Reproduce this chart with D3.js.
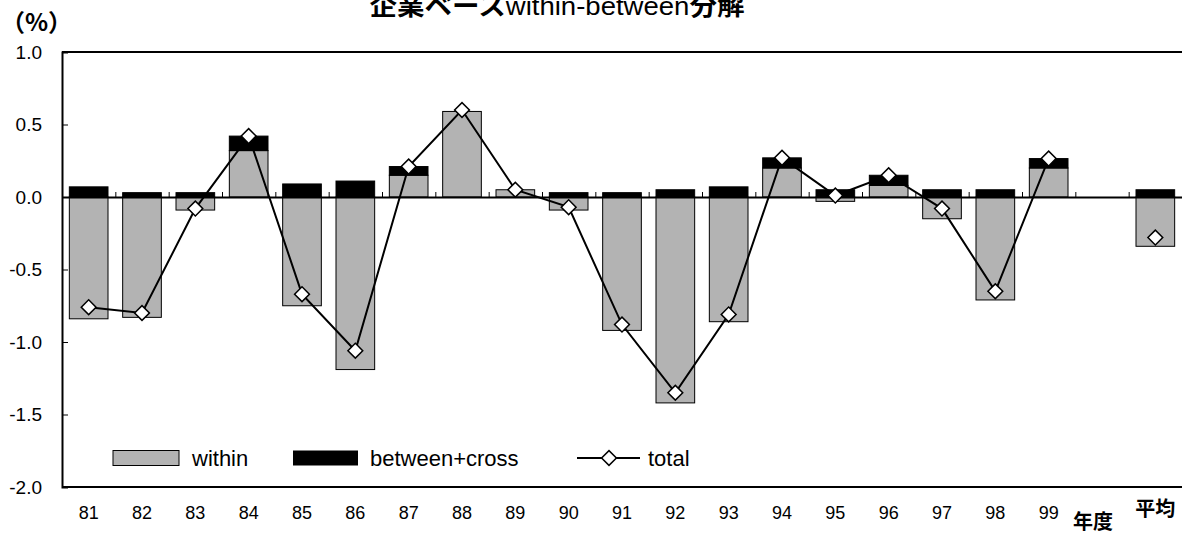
<!DOCTYPE html>
<html>
<head>
<meta charset="utf-8">
<script src="https://cdn.jsdelivr.net/npm/d3@7"></script>
<style>
    body { margin: 0; background: #fff; }
    text { font-family: "Liberation Sans", Arial, sans-serif; }
    .cjk { font-family: "Noto Sans CJK JP", sans-serif; font-weight: bold; }
</style>
</head>
<body>
<div id="chart"></div>
<script>
// chart values
const years = ['81', '82', '83', '84', '85', '86', '87', '88', '89', '90',
    '91', '92', '93', '94', '95', '96', '97', '98', '99'];
const slots = [...years, 'gap', '平均'];
const within = [-0.84, -0.83, -0.09, 0.32, -0.75, -1.19, 0.15, 0.59, 0.05, -0.09,
    -0.92, -1.42, -0.86, 0.20, -0.03, 0.08, -0.15, -0.71, 0.20, null, -0.34];
const between = [0.07, 0.03, 0.03, 0.10, 0.09, 0.11, 0.06, 0.00, 0.00, 0.03,
    0.03, 0.05, 0.07, 0.07, 0.05, 0.07, 0.05, 0.05, 0.065, null, 0.05];
const total = [-0.76, -0.80, -0.08, 0.42, -0.67, -1.06, 0.21, 0.60, 0.05, -0.07,
    -0.88, -1.35, -0.81, 0.27, 0.01, 0.15, -0.08, -0.65, 0.265, null, -0.28];
const yTicks = [-2.0, -1.5, -1.0, -0.5, 0.0, 0.5, 1.0];

const margin = {top: 52, right: 0, bottom: 47, left: 62};
const width = 1182 - margin.left - margin.right;
const height = 534 - margin.top - margin.bottom;

const svg = d3.select('#chart')
    .append('svg')
        .attr('width', width + margin.left + margin.right)
        .attr('height', height + margin.top + margin.bottom)
    .append('g')
        .attr('transform', `translate(${margin.left},${margin.top})`);

// scales
const x = d3.scaleBand().domain(slots).range([0, width]).paddingInner(0.275).paddingOuter(0.1375);
const xEdge = d3.scaleLinear().domain([0, slots.length]).range([0, width]);
const y = d3.scaleLinear().domain([-2, 1]).range([height, 0]);

// stacked table (within below/above zero, between on top)
const table = slots.map((s, i) => ({slot: s, within: within[i] || 0, between: between[i] || 0}))
    .filter((d, i) => within[i] !== null);
const series = d3.stack()
    .keys(['within', 'between'])
    .offset(d3.stackOffsetDiverging)(table);
const fills = {within: '#b3b3b3', between: '#000'};

// frame: top and bottom border
svg.append('line')
    .attr('x1', 0).attr('x2', width)
    .attr('y1', 0).attr('y2', 0)
    .attr('stroke', '#000').attr('stroke-width', 2);
svg.append('line')
    .attr('x1', 0).attr('x2', width)
    .attr('y1', height).attr('y2', height)
    .attr('stroke', '#000').attr('stroke-width', 2);

// y axis with inward ticks
const yAxis = svg.append('g')
    .call(d3.axisLeft(y).tickValues(yTicks).tickSize(-6).tickPadding(20).tickFormat(d => d.toFixed(1)));
yAxis.select('.domain').attr('stroke-width', 2);
yAxis.selectAll('text').attr('font-size', 19).attr('font-family', '"Liberation Sans", Arial, sans-serif').attr('fill', '#000');

// bars
svg.append('g')
    .selectAll('g')
    .data(series)
    .join('g')
        .attr('fill', d => fills[d.key])
    .selectAll('rect')
    .data(d => d)
    .join('rect')
        .attr('x', d => x(d.data.slot))
        .attr('width', x.bandwidth())
        .attr('y', d => y(d[1]))
        .attr('height', d => y(d[0]) - y(d[1]))
        .attr('stroke', '#000')
        .attr('stroke-width', 1);

// zero line with category boundary ticks
const zeroAxis = svg.append('g')
    .attr('transform', `translate(0,${y(0)})`)
    .call(d3.axisBottom(xEdge).tickValues(d3.range(1, slots.length)).tickSize(-5).tickSizeOuter(0).tickFormat(''));
zeroAxis.select('.domain').attr('stroke-width', 2);

// category labels
const xAxis = svg.append('g')
    .attr('transform', `translate(0,${height})`)
    .call(d3.axisBottom(x).tickSize(0).tickPadding(19).tickFormat(d => d === 'gap' ? '年度' : d));
xAxis.select('.domain').remove();
xAxis.selectAll('text')
    .attr('font-size', 18)
    .attr('font-family', '"Liberation Sans", Arial, sans-serif')
    .attr('fill', '#000');
xAxis.selectAll('text')
    .filter(d => d === 'gap' || d === '平均')
    .attr('class', 'cjk')
    .attr('font-family', null)
    .attr('font-size', 20);
xAxis.selectAll('text')
    .filter(d => d === 'gap')
    .attr('x', -9)
    .attr('y', 28);
xAxis.selectAll('text')
    .filter(d => d === '平均')
    .attr('y', 15);

// total line over the yearly points
const pts = slots.map((s, i) => ({slot: s, v: total[i]})).filter(d => d.v !== null);
const line = d3.line()
    .x(d => x(d.slot) + x.bandwidth() / 2)
    .y(d => y(d.v));
svg.append('path')
    .datum(pts.filter(d => years.includes(d.slot)))
    .attr('fill', 'none')
    .attr('stroke', '#000')
    .attr('stroke-width', 2)
    .attr('d', line);

const diamond = d3.symbol().type(d3.symbolSquare).size(110);
svg.append('g')
    .selectAll('path')
    .data(pts)
    .join('path')
        .attr('d', diamond)
        .attr('transform', d => `translate(${x(d.slot) + x.bandwidth() / 2},${y(d.v)}) rotate(45)`)
        .attr('fill', '#fff')
        .attr('stroke', '#000')
        .attr('stroke-width', 1.5);

// legend
const legend = svg.append('g').attr('transform', `translate(0,${y(-1.8)})`);
legend.append('rect')
    .attr('x', 51).attr('y', -7.5).attr('width', 66).attr('height', 15)
    .attr('fill', fills.within).attr('stroke', '#000').attr('stroke-width', 1);
legend.append('text')
    .attr('x', 130).attr('dy', '0.35em').attr('font-size', 22).text('within');
legend.append('rect')
    .attr('x', 231).attr('y', -7.5).attr('width', 65).attr('height', 15)
    .attr('fill', fills.between);
legend.append('text')
    .attr('x', 308).attr('dy', '0.35em').attr('font-size', 22).text('between+cross');
legend.append('line')
    .attr('x1', 515).attr('x2', 578).attr('y1', 0).attr('y2', 0)
    .attr('stroke', '#000').attr('stroke-width', 2);
legend.append('path')
    .attr('d', diamond)
    .attr('transform', 'translate(547,0) rotate(45)')
    .attr('fill', '#fff').attr('stroke', '#000').attr('stroke-width', 1.5);
legend.append('text')
    .attr('x', 586).attr('dy', '0.35em').attr('font-size', 22).text('total');

// title and unit label
const root = d3.select('#chart svg');
const title = root.append('text')
    .attr('x', 557)
    .attr('y', 15)
    .attr('text-anchor', 'middle')
    .attr('font-size', 25)
    .attr('textLength', 375)
    .attr('lengthAdjust', 'spacingAndGlyphs');
title.append('tspan').attr('class', 'cjk').text('企業ベース');
title.append('tspan').text('within-between');
title.append('tspan').attr('class', 'cjk').text('分解');

root.append('text')
    .attr('class', 'cjk')
    .attr('x', 1)
    .attr('y', 31)
    .attr('font-size', 24)
    .text('（%）');
</script>
</body>
</html>
